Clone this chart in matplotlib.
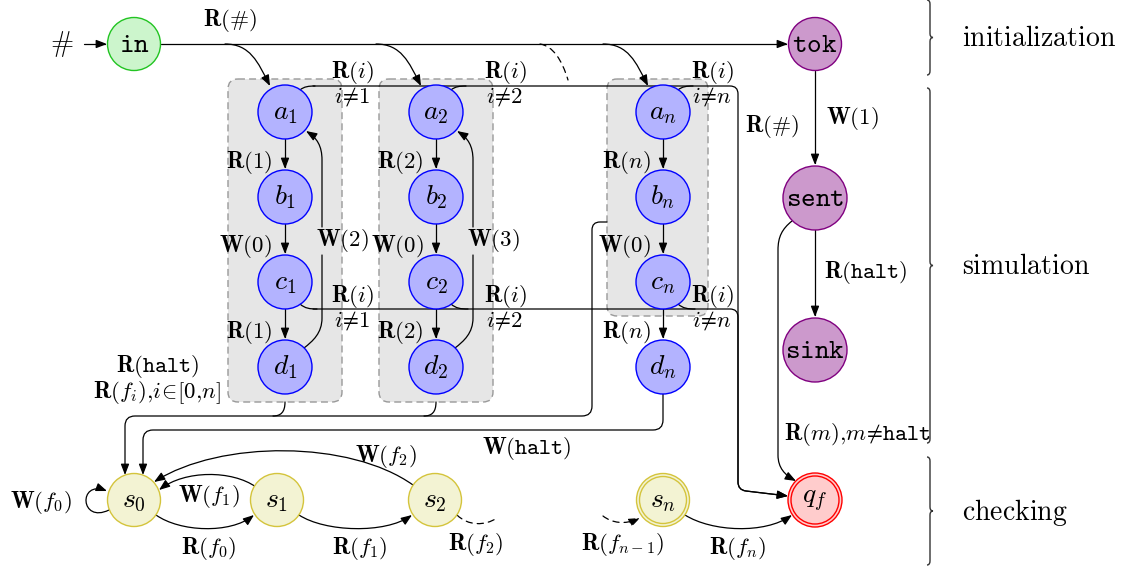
import numpy as np
import matplotlib
matplotlib.use("Agg")
import matplotlib.pyplot as plt
from matplotlib.patches import Circle, FancyArrowPatch, FancyBboxPatch, PathPatch
from matplotlib.path import Path

plt.rcParams["mathtext.fontset"] = "cm"

# automaton states
node_ids = ["in", "tok", "sent", "sink",
            "a1", "b1", "c1", "d1",
            "a2", "b2", "c2", "d2",
            "an", "bn", "cn", "dn",
            "s0", "s1", "s2", "sn", "qf"]
node_text = [r"$\mathtt{in}$", r"$\mathtt{tok}$", r"$\mathtt{sent}$", r"$\mathtt{sink}$",
             r"$a_1$", r"$b_1$", r"$c_1$", r"$d_1$",
             r"$a_2$", r"$b_2$", r"$c_2$", r"$d_2$",
             r"$a_n$", r"$b_n$", r"$c_n$", r"$d_n$",
             r"$s_0$", r"$s_1$", r"$s_2$", r"$s_n$", r"$q_f$"]
node_kind = ["init", "ctrl", "ctrl", "ctrl"] + ["sim"] * 12 + ["chk", "chk", "chk", "chk2", "final"]

# edge labels
edge_text = [r"$\mathbf{R}(\#)$",
             r"$\mathbf{R}(i)$", r"$i\!\neq\!1$", r"$\mathbf{R}(i)$", r"$i\!\neq\!2$",
             r"$\mathbf{R}(i)$", r"$i\!\neq\!n$",
             r"$\mathbf{R}(i)$", r"$i\!\neq\!1$", r"$\mathbf{R}(i)$", r"$i\!\neq\!2$",
             r"$\mathbf{R}(i)$", r"$i\!\neq\!n$",
             r"$\mathbf{R}(1)$", r"$\mathbf{W}(0)$", r"$\mathbf{R}(1)$",
             r"$\mathbf{R}(2)$", r"$\mathbf{W}(0)$", r"$\mathbf{R}(2)$",
             r"$\mathbf{R}(n)$", r"$\mathbf{W}(0)$", r"$\mathbf{R}(n)$",
             r"$\mathbf{W}(2)$", r"$\mathbf{W}(3)$",
             r"$\mathbf{R}(\#)$", r"$\mathbf{W}(1)$", r"$\mathbf{R}(\mathtt{halt})$",
             r"$\mathbf{R}(m){,}m\!\neq\!\mathtt{halt}$",
             r"$\mathbf{R}(\mathtt{halt})$", r"$\mathbf{R}(f_i){,}i\!\in\![0{,}n]$",
             r"$\mathbf{W}(\mathtt{halt})$",
             r"$\mathbf{W}(f_0)$", r"$\mathbf{W}(f_1)$", r"$\mathbf{W}(f_2)$",
             r"$\mathbf{R}(f_0)$", r"$\mathbf{R}(f_1)$", r"$\mathbf{R}(f_2)$",
             r"$\mathbf{R}(f_{n-1})$", r"$\mathbf{R}(f_n)$"]

phase_names = ["initialization", "simulation", "checking"]

# ---- layout (pixel coords) ----
col = {"1": 285, "2": 436, "n": 663}
row = {"a": 112, "b": 197, "c": 282, "d": 367}
pos = {"in": (134, 44), "tok": (815, 44), "sent": (815, 198), "sink": (815, 350),
       "s0": (134, 500), "s1": (277, 500), "s2": (435, 500), "sn": (663, 500), "qf": (815, 500)}
for c, x in col.items():
    for r, y in row.items():
        pos[r + c] = (x, y)

style = {"init": ("#ccf5cc", "#22c422", 26.5, False),
         "ctrl": ("#cc99cc", "#800080", 26.5, False),
         "sim": ("#b3b3ff", "#0000ff", 27, False),
         "chk": ("#f3f3d3", "#d4c43c", 26.5, False),
         "chk2": ("#f3f3d3", "#d4c43c", 26.5, True),
         "final": ("#ffcccc", "#ff0000", 27, True)}

edge_pos = [(230, 20),
            (352, 73), (352, 97), (505, 73), (505, 97), (712, 73), (712, 97),
            (352, 297), (352, 321), (505, 297), (505, 321), (712, 297), (712, 321),
            (249, 162), (245, 246), (249, 332),
            (400, 162), (397, 246), (400, 332),
            (626, 162), (624, 246), (626, 332),
            (342, 240), (493, 240),
            (772, 126), (852, 118), (866, 272),
            (858, 434),
            (158, 367), (157, 393),
            (527, 449),
            (41, 502), (209, 497), (386, 457),
            (209, 548), (360, 548), (476, 545),
            (623, 545), (738, 548)]

fig = plt.figure(figsize=(11.29, 5.70), dpi=100)
ax = fig.add_axes([0, 0, 1, 1])
ax.set_xlim(0, 1129)
ax.set_ylim(570, 0)
ax.axis("off")


def build(start, *segs):
    verts = [start]
    codes = [Path.MOVETO]
    for s in segs:
        verts += list(s)
        codes += {1: [Path.LINETO], 2: [Path.CURVE3] * 2, 3: [Path.CURVE4] * 3}[len(s)]
    return Path(verts, codes)


def draw(path, arrow=True, ls="-"):
    st = "-|>,head_length=0.65,head_width=0.25" if arrow else "-"
    ax.add_patch(FancyArrowPatch(path=path, arrowstyle=st, mutation_scale=10,
                                 lw=0.9, color="black", linestyle=ls, zorder=2))


def brace(x, y0, y1):
    ym = (y0 + y1) / 2
    p = build((x - 3, y0), [(x, y0), (x, y0 + 4)], [(x, ym - 4)], [(x, ym), (x + 3, ym)],
              [(x, ym), (x, ym + 4)], [(x, y1 - 4)], [(x, y1), (x - 3, y1)])
    ax.add_patch(PathPatch(p, fill=False, lw=1.0, ec="#333333"))


# grey groups
for x0, w, h in [(228, 114, 323), (379, 114, 323), (607, 101, 237)]:
    ax.add_patch(FancyBboxPatch((x0, 79), w, h, boxstyle="round,pad=0,rounding_size=10",
                                fc="#e6e6e6", ec="#999999", lw=1.0, ls=(0, (5, 3)), zorder=0.5))

# initialization
draw(build((84, 44), [(107, 44)]))
draw(build((161, 44), [(788, 44)]))
for x in col.values():
    draw(build((x - 60, 44), [(x - 35, 44), (x - 27, 62), (x - 15, 86)]))
draw(build((540, 44), [(553, 46), (562, 60), (568, 80)]), arrow=False, ls=(0, (5, 4)))

# columns
for x in col.values():
    draw(build((x, 139), [(x, 169)]))
    draw(build((x, 224), [(x, 254)]))
    draw(build((x, 309), [(x, 339)]))
    # a_i / c_i branches onto the trunks
    draw(build((x + 15, 90), [(x + 19, 86.5), (x + 24, 86), (x + 30, 86)]), arrow=False)
    draw(build((x + 15, 304), [(x + 20, 308.5), (x + 25, 309), (x + 32, 309)]), arrow=False)

for x in (col["1"], col["2"]):
    lx = x + 37
    draw(build((x + 19, 348), [(x + 28, 341), (lx, 333), (lx, 318)], [(lx, 255)]), arrow=False)
    draw(build((lx, 227), [(lx, 160)], [(lx, 146), (lx - 5, 138), (x + 21, 131)]))
    draw(build((x, 402), [(x, 412), (x - 4, 416), (x - 12, 416)]), arrow=False)

for y in (86, 309):
    draw(build((313, y), [(730, y)], [(738, y), (738, y + 8)], [(738, 482)],
               [(738, 490), (746, 491)], [(788, 496)]))

# to s0
draw(build((607, 222), [(600, 222)], [(592, 222), (592, 230)], [(592, 406)],
           [(592, 416), (582, 416)], [(135, 416)], [(125, 416), (125, 426)], [(125, 475)]))
draw(build((663, 394), [(663, 420)], [(663, 430), (653, 430)], [(153, 430)],
           [(143, 430), (143, 440)], [(143, 475)]))

# control column
draw(build((815, 71), [(815, 165)]))
draw(build((815, 230), [(815, 317)]))
draw(build((792, 221), [(782, 229), (778, 237), (778, 250)], [(778, 455)],
           [(778, 468), (785, 475), (796, 481)]))

# checking row
draw(build((109, 510), [(80, 524), (78, 480), (107, 491)]))
draw(build((156, 515), [(180, 532), (230, 534), (254, 515)]))
draw(build((256, 487), [(232, 470), (185, 470), (159, 490)]))
draw(build((413, 485), [(350, 440), (220, 440), (154, 482)]))
draw(build((299, 515), [(325, 532), (385, 534), (412, 515)]))
draw(build((457, 515), [(468, 526), (485, 526), (497, 518)]), arrow=False, ls=(0, (5, 4)))
draw(build((603, 516), [(612, 523), (625, 525), (640, 518)]), ls=(0, (5, 4)))
draw(build((685, 515), [(712, 532), (765, 534), (792, 515)]))

# nodes
for nid, txt, kind in zip(node_ids, node_text, node_kind):
    fc, ec, r, dbl = style[kind]
    if nid in ("sent", "sink"):
        r = 32
    x, y = pos[nid]
    ax.add_patch(Circle((x, y), r, fc=fc, ec=ec, lw=1.0, zorder=3))
    if dbl:
        ax.add_patch(Circle((x, y), r - 3, fill=False, ec=ec, lw=1.0, zorder=3))
    ax.text(x, y, txt, fontsize=20, ha="center", va="center", zorder=4)

ax.text(62, 44, r"$\#$", fontsize=20, ha="center", va="center")

for txt, (x, y) in zip(edge_text, edge_pos):
    ax.text(x, y, txt, fontsize=16.5, ha="center", va="center", zorder=4)

# phases
for (y0, y1), name in zip([(0, 75), (88, 443), (457, 565)], phase_names):
    brace(930, y0, y1)
    ax.text(962, (y0 + y1) / 2 + 1, r"$\mathrm{" + name + "}$", fontsize=20,
            ha="left", va="center")

fig.savefig("out.png", dpi=100)
